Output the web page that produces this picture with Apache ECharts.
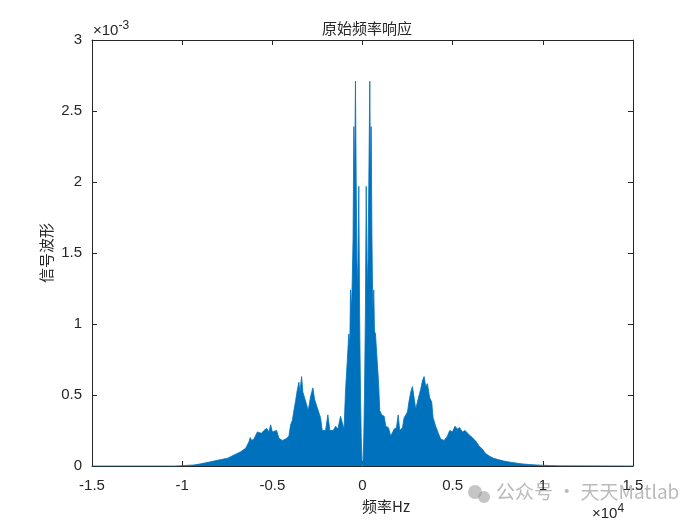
<!DOCTYPE html>
<html>
<head>
<meta charset="utf-8">
<script src="https://cdn.jsdelivr.net/npm/echarts@6/dist/echarts.min.js"></script>
<style>
html,body{margin:0;padding:0;background:#fff;}
#c{width:700px;height:525px;}
</style>
</head>
<body>
<div id="c"></div>
<script>
// Frequency (Hz) and magnitude (units of 1e-3)
var freqHz = [
 -15000,-10355,-10075,-9800,-9360,-8970,-8420,-7970,-7475,-7090,-6755,
 -6478,-6296,-6230,-6146,-6019,-5830,-5742,-5609,-5465,-5316,-5189,-5094,-5000,-4911,-4762,
 -4634,-4446,-4264,-4081,-3987,-3892,-3804,-3710,-3616,-3527,-3472,-3378,-3306,-3212,-3117,
 -3007,-2879,-2752,-2658,-2508,-2326,-2231,-2049,-1921,-1811,-1622,-1495,-1368,-1218,-1124,
 -1024,-941,-845,-760,-705,-665,-610,-570,-525,-480,-440,-390,-350,-310,-270,
 -205,-160,-110,-70,-30,0,
 30,70,110,160,205,270,310,350,405,445,480,525,570,626,664,
 720,814,886,958,1069,1202,1290,1440,1567,1755,1883,1977,2065,2215,2309,
 2398,2492,2586,2674,2769,2863,2951,3101,3228,3322,3416,3505,3599,3726,3837,
 3915,4059,4208,4335,4524,4706,4834,4983,5133,5260,5388,5537,5687,5908,6091,
 6312,6462,6644,6810,7030,7270,7530,7825,8195,8565,8915,9300,9855,10410,10960,15000
];
var magE3 = [
 0,0,0.002,0.004,0.007,0.015,0.03,0.042,0.055,0.08,0.10,
 0.125,0.17,0.20,0.18,0.19,0.24,0.25,0.23,0.25,0.265,0.24,0.29,0.24,0.23,0.25,
 0.195,0.18,0.19,0.21,0.29,0.32,0.39,0.46,0.535,0.59,0.52,0.63,0.52,0.52,0.44,
 0.39,0.49,0.55,0.47,0.41,0.34,0.25,0.25,0.36,0.25,0.25,0.28,0.26,0.35,0.34,
 0.26,0.53,0.74,0.93,0.85,1.24,1.10,1.30,1.60,2.39,2.00,2.71,2.00,1.45,1.25,
 1.97,1.07,0.50,0.20,0.04,0.01,
 0.04,0.20,0.50,1.07,1.97,1.25,1.45,2.00,2.71,2.00,2.39,1.60,1.10,1.24,0.95,
 0.93,0.74,0.60,0.39,0.36,0.35,0.28,0.27,0.21,0.26,0.27,0.36,0.25,0.27,0.34,
 0.36,0.38,0.46,0.52,0.56,0.48,0.40,0.48,0.54,0.60,0.63,0.56,0.58,0.48,0.45,
 0.34,0.28,0.23,0.19,0.18,0.21,0.25,0.24,0.28,0.26,0.27,0.24,0.25,0.22,0.20,
 0.17,0.14,0.12,0.09,0.07,0.054,0.045,0.035,0.027,0.02,0.014,0.01,0.006,0.003,0.001,0
];
var xTickLabels = ['-1.5','-1','-0.5','0','0.5','1','1.5'];
var yTickLabels = ['0','0.5','1','1.5','2','2.5','3'];
var titleText = '原始频率响应';
var xLabelText = '频率Hz';
var yLabelText = '信号波形';

var pts = freqHz.map(function(f,i){ return [f, magE3[i]]; });
var chart = echarts.init(document.getElementById('c'));
var txtColor = '#262626';
var fontFam = '"Liberation Sans", Arial, "Noto Sans CJK SC", sans-serif';
var axisBase = {
  axisLine:{show:true,onZero:false,lineStyle:{color:txtColor,width:1}},
  axisTick:{show:true,inside:true,length:5,lineStyle:{color:txtColor}},
  splitLine:{show:false}
};
chart.setOption({
  animation:false,
  backgroundColor:'#fff',
  title:{text:titleText,left:362,top:16,textAlign:'center',
    textStyle:{fontSize:15,fontWeight:'normal',color:txtColor,fontFamily:'"Noto Sans CJK SC", sans-serif'}},
  grid:{left:92,right:67,top:40,bottom:59,containLabel:false},
  xAxis:[
    Object.assign({type:'value',min:-15000,max:15000,interval:5000,position:'bottom',
      axisLabel:{color:txtColor,fontSize:15,fontFamily:fontFam,margin:12,
        formatter:function(v){ return xTickLabels[Math.round((v+15000)/5000)]; }}},axisBase),
    Object.assign({type:'value',min:-15000,max:15000,interval:5000,position:'top',
      axisLabel:{show:false}},axisBase)
  ],
  yAxis:[
    Object.assign({type:'value',min:0,max:3,interval:0.5,position:'left',
      axisLabel:{color:txtColor,fontSize:15,fontFamily:fontFam,margin:10,
        formatter:function(v){ return yTickLabels[Math.round(v/0.5)]; }}},axisBase),
    Object.assign({type:'value',min:0,max:3,interval:0.5,position:'right',
      axisLabel:{show:false}},axisBase)
  ],
  series:[{
    type:'line',data:pts,showSymbol:false,symbol:'none',
    lineStyle:{color:'#0072BD',width:0.8},
    areaStyle:{color:'#0072BD',opacity:1},
    xAxisIndex:0,yAxisIndex:0,z:1
  }],
  graphic:[
    {type:'text',left:93,top:20,style:{
      text:'×10{s|-3}',rich:{s:{fontSize:12,fill:txtColor,padding:[0,0,9,0]}},
      fontSize:15,fill:txtColor,fontFamily:fontFam}},
    {type:'text',left:592,top:503,style:{
      text:'×10{s|4}',rich:{s:{fontSize:12,fill:txtColor,padding:[0,0,9,0]}},
      fontSize:15,fill:txtColor,fontFamily:fontFam}},
    {type:'text',left:362,top:499,style:{text:xLabelText,fontSize:15,fill:txtColor,
      textAlign:'center',fontFamily:'"Noto Sans CJK SC", sans-serif'}},
    {type:'text',x:46,y:253,rotation:Math.PI/2,style:{text:yLabelText,fontSize:15,fill:txtColor,
      textAlign:'center',textVerticalAlign:'middle',fontFamily:'"Noto Sans CJK SC", sans-serif'}},
    {type:'circle',shape:{cx:475,cy:492,r:7},style:{fill:'rgba(150,150,150,0.55)'}},
    {type:'circle',shape:{cx:484,cy:497,r:6},style:{fill:'rgba(150,150,150,0.55)'}},
    {type:'text',left:496,top:482,style:{text:'公众号 · 天天Matlab',fontSize:19,
      fill:'rgba(140,140,140,0.6)',fontFamily:'"Noto Sans CJK SC", sans-serif'}}
  ]
});
</script>
</body>
</html>
